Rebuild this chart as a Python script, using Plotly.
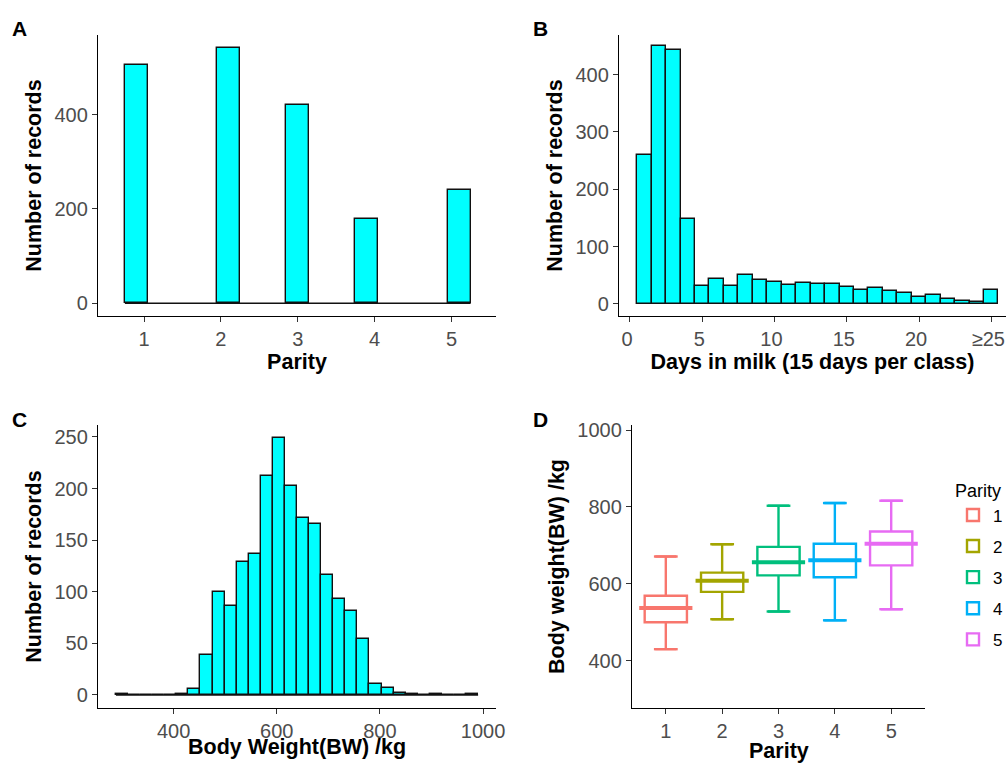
import plotly.graph_objects as go
import numpy as np

# ---------------- data ----------------
# A: parity histogram (bins of width 0.3)
parity_bin_centers = [0.9, 2.1, 3.0, 3.9, 5.1]
parity_counts = [505, 542, 420, 179, 240]
parity_bin_width = 0.3
parity_bin_range = [0.75, 5.25]

# B: days in milk classes (15 days per class)
dim_classes = list(range(1, 26))
dim_counts = [260, 449, 443, 149, 31, 44, 31, 51, 42, 38, 33, 37, 34,
              34, 30, 24, 27, 23, 19, 13, 15, 8, 6, 4, 24]
dim_tickvals = [0, 5, 10, 15, 20, 25]
dim_ticktext = ["0", "5", "10", "15", "20", "\u226525"]

# C: body weight histogram (30 bins)
bw_first_center = 300.0
bw_bin_width = 23.4
bw_counts = [1, 0, 0, 0, 0, 1, 6, 39, 100, 86, 129, 137, 212, 249, 202,
             171, 166, 116, 93, 81, 54, 11, 7, 2, 1, 0, 1, 0, 0, 1]

# D: body weight by parity (box statistics)
box_parity = ["1", "2", "3", "4", "5"]
box_lower = [430, 508, 528, 505, 534]
box_q1 = [500, 579, 622, 617, 648]
box_median = [537, 608, 656, 661, 704]
box_q3 = [569, 629, 696, 704, 736]
box_upper = [671, 703, 803, 810, 816]
box_colors = ["#F8766D", "#A3A500", "#00BF7D", "#00B0F6", "#E76BF3"]

# ---------------- figure ----------------
W, H = 1006, 763
FONT = "Liberation Sans, Arial, sans-serif"
TICKC = "#4D4D4D"
FILL = "#00FFFF"
TSIZE = 21.5

def xd(a, b):
    return [a / W, b / W]

def yd(top, bottom):
    return [1 - bottom / H, 1 - top / H]

fig = go.Figure()

bar_line = dict(color="#111111", width=1.4)

# A
fig.add_trace(go.Scatter(x=parity_bin_range, y=[0, 0], mode="lines",
                         line=dict(color="#111111", width=1.5),
                         showlegend=False, xaxis="x", yaxis="y", hoverinfo="skip"))
fig.add_trace(go.Bar(x=parity_bin_centers, y=parity_counts, width=parity_bin_width,
                     marker=dict(color=FILL, line=bar_line),
                     showlegend=False, xaxis="x", yaxis="y"))

# B
fig.add_trace(go.Bar(x=dim_classes, y=dim_counts, width=1,
                     marker=dict(color=FILL, line=bar_line),
                     showlegend=False, xaxis="x2", yaxis="y2"))

# C
bw_centers = bw_first_center + bw_bin_width * np.arange(len(bw_counts))
fig.add_trace(go.Scatter(x=[bw_centers[0] - bw_bin_width / 2, bw_centers[-1] + bw_bin_width / 2],
                         y=[0, 0], mode="lines", line=dict(color="#111111", width=1.5),
                         showlegend=False, xaxis="x3", yaxis="y3", hoverinfo="skip"))
fig.add_trace(go.Bar(x=bw_centers, y=bw_counts, width=bw_bin_width,
                     marker=dict(color=FILL, line=bar_line),
                     showlegend=False, xaxis="x3", yaxis="y3"))

# D
for i, p in enumerate(box_parity):
    xp = i + 1
    fig.add_trace(go.Box(
        x=[xp], q1=[box_q1[i]], median=[box_median[i]], q3=[box_q3[i]],
        lowerfence=[box_lower[i]], upperfence=[box_upper[i]],
        name=p, width=0.75, line=dict(color=box_colors[i], width=2.4),
        fillcolor="rgba(255,255,255,0)", boxpoints=False,
        legendgroup=p, xaxis="x4", yaxis="y4"))
    # whisker caps
    fig.add_trace(go.Scatter(
        x=[xp, xp], y=[box_lower[i], box_upper[i]], mode="markers",
        marker=dict(symbol="line-ew", size=17, color=box_colors[i],
                    line=dict(color=box_colors[i], width=2.4)),
        showlegend=False, legendgroup=p, hoverinfo="skip", xaxis="x4", yaxis="y4"))
    # thick median bar
    fig.add_trace(go.Scatter(
        x=[xp], y=[box_median[i]], mode="markers",
        marker=dict(symbol="line-ew", size=38, color=box_colors[i],
                    line=dict(color=box_colors[i], width=4)),
        showlegend=False, legendgroup=p, hoverinfo="skip", xaxis="x4", yaxis="y4"))

ax_common = dict(showline=True, linecolor="black", linewidth=1.3, ticks="outside",
                 ticklen=5, tickwidth=1.1, tickcolor="#333333", showgrid=False,
                 zeroline=False, tickfont=dict(family=FONT, size=20, color=TICKC),
                 automargin=False)
title_font = dict(family=FONT, size=TSIZE, color="black")

def tt(text, standoff):
    return dict(text="<b>%s</b>" % text, font=title_font, standoff=standoff)

fig.update_layout(
    width=W, height=H, margin=dict(l=0, r=0, t=0, b=0, autoexpand=False),
    paper_bgcolor="white", plot_bgcolor="white",
    font=dict(family=FONT),
    bargap=0, barmode="overlay", boxmode="overlay",
    xaxis=dict(domain=xd(98, 496), anchor="y", range=[0.4, 5.58],
               tickvals=[1, 2, 3, 4, 5], title=tt("Parity", 3), **ax_common),
    yaxis=dict(domain=yd(35, 316), anchor="x", range=[-27, 569],
               tickvals=[0, 200, 400], title=tt("Number of records", 6), **ax_common),
    xaxis2=dict(domain=xd(619, 1006), anchor="y2", range=[-0.76, 26.02],
                tickvals=dim_tickvals, ticktext=dim_ticktext, ticklabeloverflow="allow",
                ticklabelshift=-3,
                title=tt("Days in milk (15 days per class)", 3), **ax_common),
    yaxis2=dict(domain=yd(35, 316), anchor="x2", range=[-21, 469],
                tickvals=[0, 100, 200, 300, 400], title=tt("Number of records", 6), **ax_common),
    xaxis3=dict(domain=xd(98, 496), anchor="y3", range=[253.5, 1025],
                tickvals=[400, 600, 800, 1000], ticklabeloverflow="allow", **ax_common),
    yaxis3=dict(domain=yd(425, 708), anchor="x3", range=[-12.6, 261.5],
                tickvals=[0, 50, 100, 150, 200, 250], title=tt("Number of records", 6), **ax_common),
    xaxis4=dict(domain=xd(632, 925), anchor="y4", range=[0.4, 5.6],
                tickvals=[1, 2, 3, 4, 5], **ax_common),
    yaxis4=dict(domain=yd(425, 708), anchor="x4", range=[277, 1013],
                tickvals=[400, 600, 800, 1000], title=tt("Body weight(BW) /kg", 6), **ax_common),
    legend=dict(x=953 / W, y=1 - 474 / H, xanchor="left", yanchor="top",
                title=dict(text="Parity", font=dict(family=FONT, size=18, color="black")),
                font=dict(family=FONT, size=17, color="black"),
                tracegroupgap=6, bgcolor="rgba(0,0,0,0)"),
)

# x titles of the lower panels (placed tight under the tick labels, as in the reference)
for text, cx, cy in [("Body Weight(BW) /kg", 297, 747), ("Parity", 778.5, 751)]:
    fig.add_annotation(text="<b>%s</b>" % text, x=cx / W, y=1 - cy / H,
                       xref="paper", yref="paper", showarrow=False,
                       xanchor="center", yanchor="middle", font=title_font)

for letter, px, py in [("A", 19, 28), ("B", 540, 28), ("C", 19, 419), ("D", 540, 419)]:
    fig.add_annotation(text="<b>%s</b>" % letter, x=px / W, y=1 - py / H,
                       xref="paper", yref="paper", showarrow=False,
                       xanchor="center", yanchor="middle",
                       font=dict(family=FONT, size=21, color="black"))

fig.write_html("out.html")
